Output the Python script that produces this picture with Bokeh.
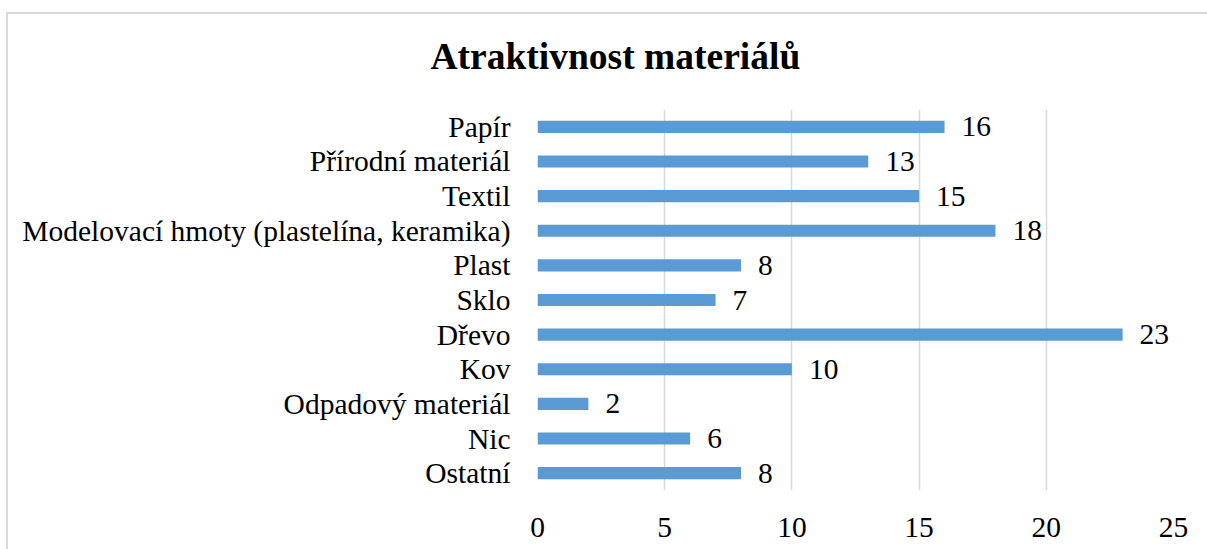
from bokeh.plotting import figure
from bokeh.models import ColumnDataSource, FactorRange, Range1d, FixedTicker, LabelSet, Title
from bokeh.embed import file_html
from bokeh.resources import INLINE

categories = ["Papír", "Přírodní materiál", "Textil", "Modelovací hmoty (plastelína, keramika)",
              "Plast", "Sklo", "Dřevo", "Kov", "Odpadový materiál", "Nic", "Ostatní"]
values = [16, 13, 15, 18, 8, 7, 23, 10, 2, 6, 8]
x_ticks = [0, 5, 10, 15, 20, 25]
title_text = "Atraktivnost materiálů"

FONT = "Liberation Serif"
BAR = "#5B9BD5"

src = ColumnDataSource(dict(cat=categories, val=values, lab=[str(v) for v in values]))

p = figure(width=1207, height=549, output_backend="svg", toolbar_location=None,
           y_range=FactorRange(factors=categories[::-1]), x_range=Range1d(0, 25),
           min_border_left=537, min_border_right=34, min_border_top=109, min_border_bottom=59)
p.title = None
t = Title(text=title_text, align="left", offset=-107, text_font=FONT, text_font_size="37.5px",
          text_font_style="bold", text_color="#000000", standoff=66)
p.add_layout(t, "above")

p.hbar(y="cat", right="val", left=0, height=0.35, source=src, color=BAR, line_color=None)

labels = LabelSet(x="val", y="cat", text="lab", source=src, x_offset=17, text_baseline="middle",
                  text_font=FONT, text_font_size="29.5px", text_color="#000000")
p.add_layout(labels)

# light chart-area border (drawn behind the transparent canvas)
p.styles = {
    "background": ("linear-gradient(#d9d9d9,#d9d9d9) 6px 12px / 2px 100% no-repeat, "
                   "linear-gradient(#d9d9d9,#d9d9d9) 6px 12px / 100% 2px no-repeat, white"),
}

p.outline_line_color = None
p.background_fill_color = None
p.border_fill_color = None
p.ygrid.grid_line_color = None
p.xgrid.grid_line_color = "#d9d9d9"
p.xgrid.grid_line_width = 1.5
p.xaxis.ticker = FixedTicker(ticks=x_ticks)
p.xgrid.ticker = FixedTicker(ticks=x_ticks)

for ax in (p.xaxis[0], p.yaxis[0]):
    ax.axis_line_color = None
    ax.major_tick_line_color = None
    ax.minor_tick_line_color = None
    ax.major_label_text_font = FONT
    ax.major_label_text_font_size = "29.5px"
    ax.major_label_text_color = "#000000"
p.xaxis.major_label_standoff = 21
p.yaxis.major_label_standoff = 21

open("out.html", "w").write(file_html(p, INLINE))
